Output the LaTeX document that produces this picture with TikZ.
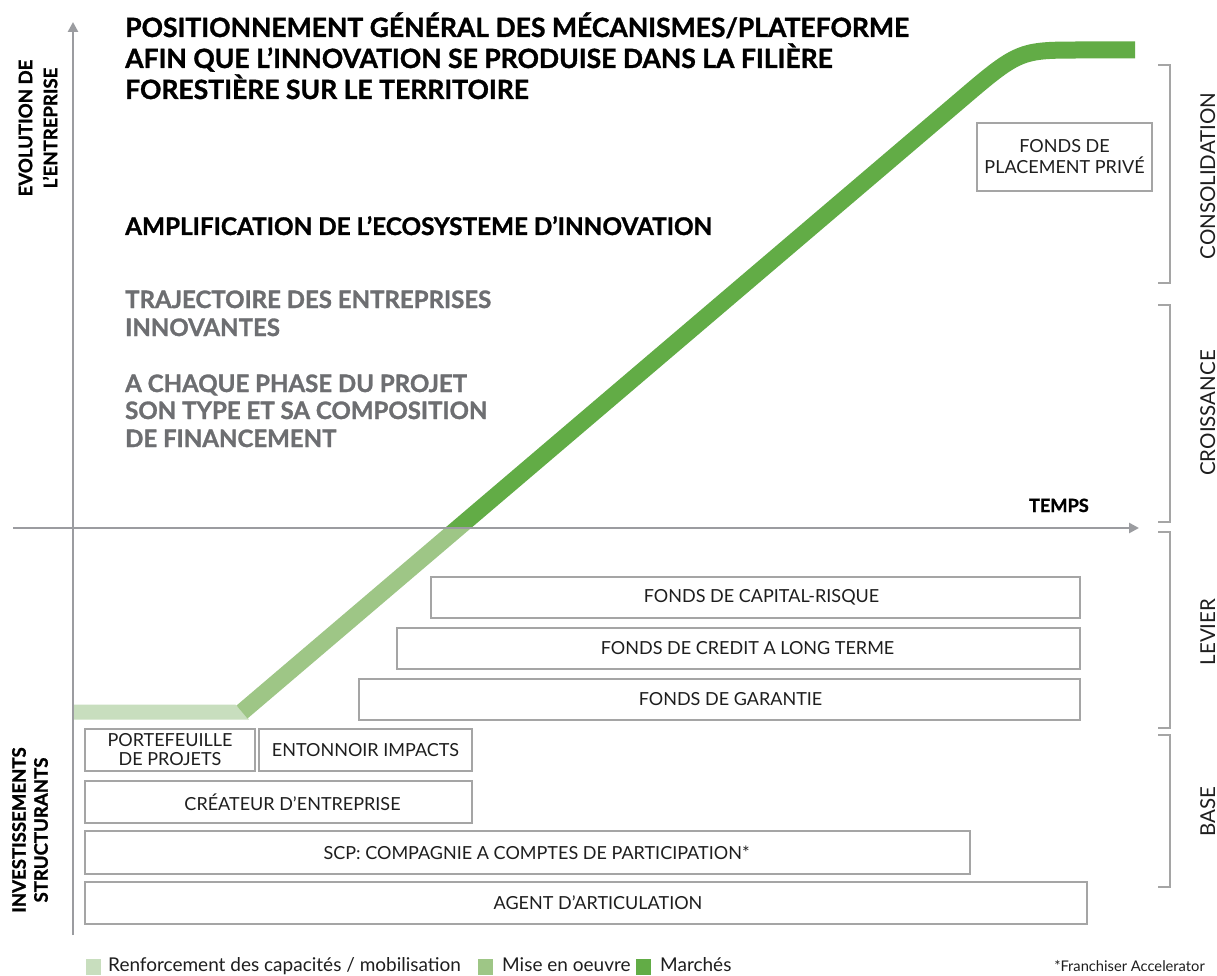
\documentclass[tikz,border=0pt]{standalone}
\usepackage{fontspec}
\setmainfont{Lato}[BoldFeatures={FakeBold=1.2}]
\usetikzlibrary{arrows.meta}
\definecolor{axisgray}{RGB}{155,156,160}
\definecolor{boxgray}{RGB}{165,165,165}
\definecolor{txtgray}{RGB}{109,110,113}
\definecolor{glight}{RGB}{200,222,190}
\definecolor{gmid}{RGB}{158,198,134}
\definecolor{gdark}{RGB}{98,172,70}
\definecolor{ink}{RGB}{30,30,30}
\begin{document}
\begin{tikzpicture}[x=1pt,y=-1pt,
  box/.style={draw=boxgray, line width=1.3pt, inner sep=0pt},
  boxlbl/.style={font=\fontsize{18}{21}\selectfont, text=ink, inner sep=0pt, align=center},
  titletxt/.style={anchor=base west, inner sep=0pt, font=\fontsize{26.5}{28}\selectfont\bfseries, text=black},
  headtxt/.style={anchor=base west, inner sep=0pt, font=\fontsize{24.3}{28}\selectfont\bfseries, text=black},
  graytxt/.style={anchor=base west, inner sep=0pt, font=\fontsize{24}{28}\selectfont\bfseries, text=txtgray},
  sidetxt/.style={rotate=90, inner sep=0pt, align=center, font=\fontsize{18.6}{25}\selectfont\bfseries, text=black},
  phasetxt/.style={rotate=90, anchor=base, inner sep=0pt, font=\fontsize{20.5}{22}\selectfont, text=ink},
  brk/.style={draw=boxgray, line width=1.2pt},
  axis/.style={draw=axisgray, line width=2.6pt, -{Triangle[width=10pt,length=10pt]}},
  legtxt/.style={anchor=base west, inner sep=0pt, font=\fontsize{19}{20}\selectfont, text=ink},
  legsq/.style={minimum width=15pt, minimum height=16pt, inner sep=0pt, anchor=north west}
]
\useasboundingbox[fill=white] (0,0) rectangle (1217,976);

% ---------- green trajectory ----------
\fill[glight] (73,704.5) -- (235.5,704.5) -- (249,719.5) -- (73,719.5);
\begin{scope}
  \clip (0,528) rectangle (1217,976);
  \draw[gmid, line width=17pt] (242,712) -- (470,517.8);
\end{scope}
\begin{scope}
  \clip (0,0) rectangle (1217,528);
  \draw[gdark, line width=17pt] (242,712) -- (957,103) .. controls (1019,50) .. (1082,50) -- (1135,50);
\end{scope}

% ---------- axes ----------
\coordinate (vb) at (73,935);
\coordinate (vt) at (73,22);
\coordinate (hl) at (13,528);
\coordinate (hr) at (1139,528);
\draw[axis] (vb) -- (vt);
\draw[axis] (hl) -- (hr);
\node[anchor=base east, inner sep=0pt, font=\fontsize{18.2}{20}\selectfont\bfseries] (temps) at (1089,512) {TEMPS};

% ---------- titles ----------
\node[titletxt] (t1) at (125,37) {POSITIONNEMENT GÉNÉRAL DES MÉCANISMES/PLATEFORME};
\node[titletxt] (t2) at (125,68) {AFIN QUE L’INNOVATION SE PRODUISE DANS LA FILIÈRE};
\node[titletxt] (t3) at (125,99) {FORESTIÈRE SUR LE TERRITOIRE};
\node[headtxt] (amp) at (125,235) {AMPLIFICATION DE L’ECOSYSTEME D’INNOVATION};
\node[graytxt] (g1) at (125,308) {TRAJECTOIRE DES ENTREPRISES};
\node[graytxt] (g2) at (125,336) {INNOVANTES};
\node[graytxt] (g3) at (125,392) {A CHAQUE PHASE DU PROJET};
\node[graytxt] (g4) at (125,419) {SON TYPE ET SA COMPOSITION};
\node[graytxt] (g5) at (125,447) {DE FINANCEMENT};

% ---------- side labels ----------
\node[sidetxt] (evo) at (38,128) {EVOLUTION DE\\L’ENTREPRISE};
\node[sidetxt, font=\fontsize{18.6}{22}\selectfont\bfseries] (inv) at (30,830) {INVESTISSEMENTS\\STRUCTURANTS};

% ---------- boxes ----------
\node[box, minimum width=175pt, minimum height=68pt] (fpp) at (1064.5,157) {};
\node[boxlbl, font=\fontsize{18}{21}\selectfont] (fpp-t) at (fpp.center) {FONDS DE\\PLACEMENT PRIVÉ};
\node[box, minimum width=649pt, minimum height=41pt] (fcr) at (755.5,597.5) {};
\node[boxlbl] (fcr-t) at ([xshift=6pt]fcr.center) {FONDS DE CAPITAL-RISQUE};
\node[box, minimum width=683pt, minimum height=41pt] (fclt) at (738.5,648.5) {};
\node[boxlbl] (fclt-t) at ([xshift=9pt]fclt.center) {FONDS DE CREDIT A LONG TERME};
\node[box, minimum width=721pt, minimum height=41pt] (fg) at (719.5,699.5) {};
\node[boxlbl] (fg-t) at ([xshift=11pt]fg.center) {FONDS DE GARANTIE};
\node[box, minimum width=170pt, minimum height=42pt] (pp) at (170,750) {};
\node[boxlbl, font=\fontsize{18}{19}\selectfont] (pp-t) at (pp.center) {PORTEFEUILLE\\DE PROJETS};
\node[box, minimum width=213pt, minimum height=42pt] (ei) at (365.5,750) {};
\node[boxlbl] (ei-t) at (ei.center) {ENTONNOIR IMPACTS};
\node[box, minimum width=387pt, minimum height=42pt] (ce) at (278.5,802) {};
\node[boxlbl] (ce-t) at ([xshift=14pt]ce.center) {CRÉATEUR D’ENTREPRISE};
\node[box, minimum width=885pt, minimum height=43pt] (scp) at (527.5,852.5) {};
\node[boxlbl] (scp-t) at ([xshift=9pt]scp.center) {SCP: COMPAGNIE A COMPTES DE PARTICIPATION*};
\node[box, minimum width=1002pt, minimum height=42pt] (aa) at (586,903) {};
\node[boxlbl] (aa-t) at ([xshift=12pt]aa.center) {AGENT D’ARTICULATION};

% ---------- right brackets ----------
\draw[brk] (1158,65) -- (1170,65) -- (1170,283) -- (1158,283);
\draw[brk] (1158,305) -- (1170,305) -- (1170,522) -- (1158,522);
\draw[brk] (1158,532) -- (1170,532) -- (1170,728) -- (1158,728);
\draw[brk] (1158,735) -- (1170,735) -- (1170,887) -- (1158,887);
\node[phasetxt] (pcons) at (1215,176) {CONSOLIDATION};
\node[phasetxt] (pcroi) at (1215,413) {CROISSANCE};
\node[phasetxt] (plev) at (1215,632) {LEVIER};
\node[phasetxt] (pbase) at (1215,812) {BASE};

% ---------- legend ----------
\node[legsq, fill=glight] (l1) at (86,959) {};
\node[legtxt] (lt1) at (108,971) {Renforcement des capacités / mobilisation};
\node[legsq, fill=gmid] (l2) at (478,959) {};
\node[legtxt] (lt2) at (502,971) {Mise en oeuvre};
\node[legsq, fill=gdark] (l3) at (636,959) {};
\node[legtxt] (lt3) at (660,971) {Marchés};
\node[anchor=base east, inner sep=0pt, font=\fontsize{14.7}{16}\selectfont, text=ink] (fa) at (1205,971) {*Franchiser Accelerator};
\end{tikzpicture}
\end{document}
